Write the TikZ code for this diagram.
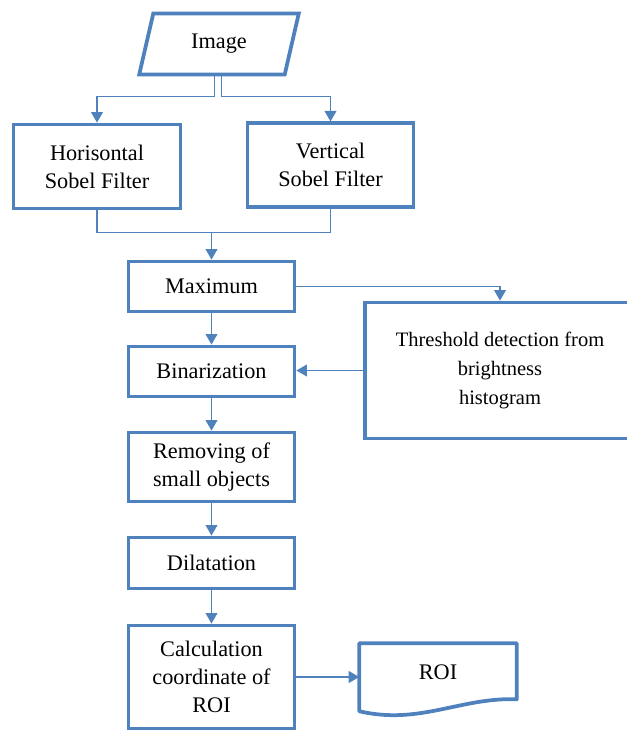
\documentclass[tikz,border=0pt]{standalone}
\usepackage{fontspec}
\setmainfont{Liberation Serif}
\usetikzlibrary{arrows.meta,shapes.geometric,calc}
\definecolor{flowblue}{RGB}{79,129,189}
\begin{document}
\begin{tikzpicture}[x=0.03cm, y=-0.03cm,
      font=\fontsize{19}{24}\selectfont, >={Triangle[length=9pt,width=10pt]},
      box/.style={draw=flowblue, line width=3.2pt, align=center, inner sep=2pt},
      conn/.style={->, draw=flowblue, line width=1.4pt},
      link/.style={draw=flowblue, line width=1.4pt}]
    \useasboundingbox (0,0) rectangle (627,733);
    \clip (0,0) rectangle (627,733);
    % input image and the two sobel filters
    \node[box, trapezium, trapezium left angle=75, trapezium right angle=105,
      trapezium stretches=true, minimum width=4.79cm, minimum height=1.83cm] (img) at (219,44) {Image};
    \node[box, minimum width=5.01cm, minimum height=2.52cm] (hz) at (97,166.5) {Horisontal\\Sobel Filter};
    \node[box, minimum width=4.98cm, minimum height=2.5cm] (vt) at (330.5,165) {Vertical\\Sobel Filter};
    % main chain
    \node[box, minimum width=4.98cm, minimum height=1.5cm] (mx) at (211.5,286.5) {Maximum};
    \node[box, minimum width=4.98cm, minimum height=1.5cm] (bin) at (211.5,371.5) {Binarization};
    \node[box, minimum width=4.98cm, minimum height=2.07cm] (rm) at (211.5,467) {Removing of\\small objects};
    \node[box, minimum width=4.98cm, minimum height=1.53cm] (dil) at (211.5,563) {Dilatation};
    \node[box, minimum width=4.98cm, minimum height=3.09cm] (calc) at (211.5,677) {Calculation\\coordinate of\\ROI};
    % threshold side box
    \node[box, minimum width=8.12cm, minimum height=4.08cm, font=\fontsize{17.5}{25}\selectfont] (thr) at (500,370.5)
      {Threshold detection from\\brightness\\histogram};
    % output document
    \node[minimum width=4.71cm, minimum height=1.71cm, inner sep=0pt] (roi) at (438,672) {ROI};
    \draw[flowblue, line width=3.2pt, line join=round]
      ($(roi.south east)+(0,-1.5)$) -- (roi.north east) -- (roi.north west)
      -- ($(roi.south west)+(0,10.5)$)
      .. controls +(60.5,14) and +(-56.5,-2) .. ($(roi.south east)+(0,-1.5)$) -- cycle;
    % arrows
    \coordinate (join) at ($(mx.north)+(0,-27)$);
    \draw[conn] ($(img.south)+(-4.5,0)$) |- ($(hz.north)+(0,-26)$) -- (hz.north);
    \draw[conn] ($(img.south)+(2.5,0)$) |- ($(vt.north)+(0,-25)$) -- (vt.north);
    \draw[link] (hz.south) |- (join);
    \draw[link] (vt.south) |- (join);
    \draw[conn] (join) -- (mx.north);
    \draw[conn] (mx.east) -| (thr.north);
    \draw[conn] (thr.west) -- (thr.west -| bin.east);
    \draw[conn] (mx) -- (bin);
    \draw[conn] (bin) -- (rm);
    \draw[conn] (rm) -- (dil);
    \draw[conn] (dil) -- (calc);
    \draw[conn] (calc.east) -- (calc.east -| roi.west);
  \end{tikzpicture}
\end{document}
